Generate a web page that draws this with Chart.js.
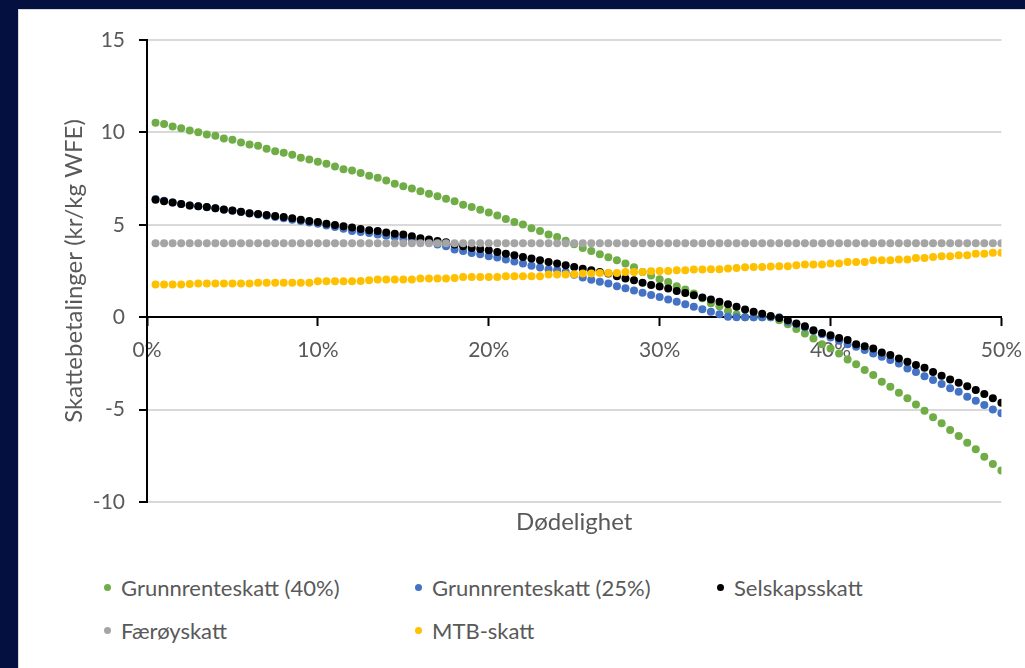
<!DOCTYPE html>
<html>
<head>
<meta charset="utf-8">
<script src="https://cdn.jsdelivr.net/npm/chart.js@4.4.1/dist/chart.umd.min.js"></script>
<style>
  body { margin: 0; background: #04103f; width: 1025px; height: 668px; overflow: hidden; font-family: Lato, sans-serif; }
  #panel { position: absolute; left: 18px; top: 9px; width: 1007px; height: 659px; background: #fff; box-shadow: inset 1px 1px 0 #d9d9d9; overflow: hidden; }
  #chart { position: absolute; left: 0; top: 0; }
  #legend { position: absolute; left: 86px; top: 557px; display: grid; grid-template-columns: 311px 302px 300px; }
  .item { display: flex; align-items: center; height: 43px; font-size: 22px; color: #595959; white-space: nowrap; }
  .dot { width: 7px; height: 7px; border-radius: 50%; margin-right: 10px; flex: none; }
</style>
</head>
<body>
<div id="panel">
  <canvas id="chart" width="1016" height="545"></canvas>
  <div id="legend"></div>
</div>
<script>
// Dødelighet (%), x values
const mortality = [
  0.5, 1, 1.5, 2, 2.5, 3, 3.5, 4, 4.5, 5,
  5.5, 6, 6.5, 7, 7.5, 8, 8.5, 9, 9.5, 10,
  10.5, 11, 11.5, 12, 12.5, 13, 13.5, 14, 14.5, 15,
  15.5, 16, 16.5, 17, 17.5, 18, 18.5, 19, 19.5, 20,
  20.5, 21, 21.5, 22, 22.5, 23, 23.5, 24, 24.5, 25,
  25.5, 26, 26.5, 27, 27.5, 28, 28.5, 29, 29.5, 30,
  30.5, 31, 31.5, 32, 32.5, 33, 33.5, 34, 34.5, 35,
  35.5, 36, 36.5, 37, 37.5, 38, 38.5, 39, 39.5, 40,
  40.5, 41, 41.5, 42, 42.5, 43, 43.5, 44, 44.5, 45,
  45.5, 46, 46.5, 47, 47.5, 48, 48.5, 49, 49.5, 50
];

// Skattebetalinger (kr/kg WFE)
const grunnrente40 = [
  10.52, 10.46, 10.32, 10.23, 10.10, 10.01, 9.89, 9.82, 9.67, 9.60,
  9.45, 9.35, 9.28, 9.11, 8.98, 8.90, 8.79, 8.63, 8.54, 8.41,
  8.30, 8.16, 8.01, 7.94, 7.80, 7.65, 7.55, 7.40, 7.22, 7.09,
  6.97, 6.82, 6.68, 6.55, 6.41, 6.27, 6.09, 5.96, 5.82, 5.67,
  5.51, 5.31, 5.15, 5.01, 4.82, 4.66, 4.47, 4.34, 4.14, 3.95,
  3.74, 3.58, 3.41, 3.25, 3.08, 2.90, 2.70, 2.45, 2.25, 2.05,
  1.91, 1.67, 1.50, 1.28, 1.02, 0.76, 0.59, 0.34, 0.15, 0,
  0, 0, 0, -0.16, -0.38, -0.64, -0.88, -1.15, -1.46, -1.69,
  -1.96, -2.29, -2.54, -2.86, -3.13, -3.49, -3.77, -4.09, -4.39, -4.72,
  -5.06, -5.42, -5.74, -6.10, -6.43, -6.79, -7.15, -7.55, -7.94, -8.30
];
const grunnrente25 = [
  6.40, 6.30, 6.21, 6.12, 6.05, 6.00, 5.95, 5.89, 5.82, 5.76,
  5.69, 5.61, 5.56, 5.49, 5.42, 5.36, 5.28, 5.20, 5.12, 5.06,
  4.96, 4.88, 4.79, 4.66, 4.61, 4.56, 4.48, 4.41, 4.34, 4.25,
  4.20, 4.12, 4.05, 3.94, 3.84, 3.66, 3.58, 3.47, 3.40, 3.30,
  3.23, 3.12, 3.01, 2.90, 2.79, 2.69, 2.60, 2.56, 2.45, 2.30,
  2.15, 2.03, 1.92, 1.82, 1.68, 1.56, 1.45, 1.32, 1.20, 1.09,
  0.96, 0.83, 0.70, 0.56, 0.43, 0.29, 0.16, 0.02, 0, 0,
  0, 0, 0, 0, -0.25, -0.38, -0.56, -0.74, -0.92, -1.10,
  -1.28, -1.46, -1.60, -1.78, -1.96, -2.14, -2.32, -2.50, -2.77, -2.96,
  -3.19, -3.40, -3.62, -3.85, -4.04, -4.31, -4.52, -4.75, -4.99, -5.20
];
const selskapsskatt = [
  6.36, 6.28, 6.20, 6.12, 6.05, 6.01, 5.96, 5.90, 5.83, 5.78,
  5.71, 5.63, 5.59, 5.53, 5.47, 5.42, 5.35, 5.28, 5.20, 5.15,
  5.06, 4.99, 4.92, 4.86, 4.77, 4.70, 4.66, 4.59, 4.52, 4.47,
  4.38, 4.27, 4.20, 4.12, 4.05, 3.94, 3.84, 3.74, 3.69, 3.62,
  3.53, 3.44, 3.35, 3.26, 3.17, 3.08, 2.99, 2.90, 2.81, 2.72,
  2.62, 2.54, 2.45, 2.36, 2.22, 2.09, 2.00, 1.86, 1.74, 1.66,
  1.55, 1.42, 1.31, 1.19, 1.06, 0.96, 0.83, 0.70, 0.56, 0.42,
  0.29, 0.19, 0.07, -0.04, -0.16, -0.34, -0.49, -0.70, -0.85, -0.97,
  -1.12, -1.24, -1.46, -1.57, -1.69, -1.91, -2.05, -2.23, -2.41, -2.59,
  -2.74, -2.96, -3.17, -3.37, -3.55, -3.73, -3.94, -4.16, -4.39, -4.63
];
const faeroyskatt = [
  4, 4, 4, 4, 4, 4, 4, 4, 4, 4,
  4, 4, 4, 4, 4, 4, 4, 4, 4, 4,
  4, 4, 4, 4, 4, 4, 4, 4, 4, 4,
  4, 4, 4, 4, 4, 4, 4, 4, 4, 4,
  4, 4, 4, 4, 4, 4, 4, 4, 4, 4,
  4, 4, 4, 4, 4, 4, 4, 4, 4, 4,
  4, 4, 4, 4, 4, 4, 4, 4, 4, 4,
  4, 4, 4, 4, 4, 4, 4, 4, 4, 4,
  4, 4, 4, 4, 4, 4, 4, 4, 4, 4,
  4, 4, 4, 4, 4, 4, 4, 4, 4, 4
];
const mtbSkatt = [
  1.77, 1.77, 1.77, 1.77, 1.79, 1.82, 1.82, 1.82, 1.82, 1.82,
  1.82, 1.82, 1.87, 1.87, 1.87, 1.87, 1.87, 1.87, 1.87, 1.94,
  1.94, 1.94, 1.94, 1.94, 1.96, 2.00, 2.04, 2.04, 2.04, 2.04,
  2.04, 2.09, 2.09, 2.09, 2.09, 2.12, 2.18, 2.18, 2.18, 2.18,
  2.18, 2.21, 2.21, 2.21, 2.21, 2.21, 2.31, 2.31, 2.31, 2.32,
  2.36, 2.36, 2.39, 2.39, 2.39, 2.45, 2.45, 2.45, 2.49, 2.50,
  2.50, 2.54, 2.54, 2.58, 2.58, 2.59, 2.59, 2.63, 2.66, 2.70,
  2.72, 2.72, 2.74, 2.76, 2.76, 2.81, 2.85, 2.85, 2.85, 2.90,
  2.90, 2.99, 2.99, 2.99, 3.08, 3.08, 3.08, 3.12, 3.12, 3.20,
  3.20, 3.26, 3.30, 3.30, 3.35, 3.35, 3.44, 3.44, 3.49, 3.49
];

const seriesLabels = ["Grunnrenteskatt (40%)", "Grunnrenteskatt (25%)", "Selskapsskatt", "Færøyskatt", "MTB-skatt"];
const seriesValues = [grunnrente40, grunnrente25, selskapsskatt, faeroyskatt, mtbSkatt];
const seriesColors = ["#70ad47", "#4472c4", "#000000", "#a5a5a5", "#ffc000"];
const xTicks = [0, 10, 20, 30, 40, 50];

const textColor = "#595959";
Chart.defaults.font.family = "Lato, sans-serif";

const datasets = seriesValues.map((vals, i) => ({
    label: seriesLabels[i],
    data: vals.map((v, j) => ({ x: mortality[j], y: v })),
    backgroundColor: seriesColors[i],
    borderColor: seriesColors[i],
    pointRadius: 4,
    pointBorderWidth: 0,
    pointHoverRadius: 4,
    showLine: false,
    // later series drawn on top, like the original
    order: seriesValues.length - i
}));

const chart = new Chart(document.getElementById("chart"), {
    type: "scatter",
    data: { datasets: datasets },
    options: {
        responsive: false,
        animation: false,
        devicePixelRatio: 1,
        layout: { padding: { top: 31, right: 0, left: 0, bottom: 0 } },
        plugins: { legend: { display: false }, tooltip: { enabled: false } },
        scales: {
            x: {
                type: "linear",
                position: { y: 0 },
                min: 0, max: 50,
                afterBuildTicks: s => { s.ticks = xTicks.map(v => ({ value: v })); },
                ticks: { callback: v => v + "%", color: textColor, font: { size: 21 }, padding: 12, maxRotation: 0 },
                grid: { drawOnChartArea: false, tickLength: 8, tickColor: "#000", tickWidth: 2 },
                border: { color: "#000", width: 2 }
            },
            x2: {
                type: "linear",
                position: "bottom",
                min: 0, max: 50,
                ticks: { display: false },
                grid: { display: false },
                border: { display: false },
                title: { display: true, text: "Dødelighet", color: textColor, font: { size: 24 }, padding: { top: 0, bottom: 17 } },
                afterFit: s => { s.height = 52; }
            },
            y: {
                min: -10, max: 15,
                ticks: { stepSize: 5, color: textColor, font: { size: 21 }, padding: 14 },
                grid: {
                    color: c => (c.tick && c.tick.value === 0) ? "rgba(0,0,0,0)" : "#d9d9d9",
                    lineWidth: 2, tickLength: 8, tickColor: "#000", tickWidth: 2
                },
                border: { color: "#000", width: 2 },
                title: { display: true, text: "Skattebetalinger (kr/kg WFE)", color: textColor, font: { size: 24 }, padding: { top: 42, bottom: 0 } },
                afterFit: s => { s.width = 129; }
            }
        }
    }
});

// Legend (grid like the original)
const legend = document.getElementById("legend");
chart.data.datasets.forEach(ds => {
    const item = document.createElement("div");
    item.className = "item";
    item.innerHTML = `<span class="dot" style="background:${ds.backgroundColor}"></span><span>${ds.label}</span>`;
    legend.appendChild(item);
});
</script>
</body>
</html>
